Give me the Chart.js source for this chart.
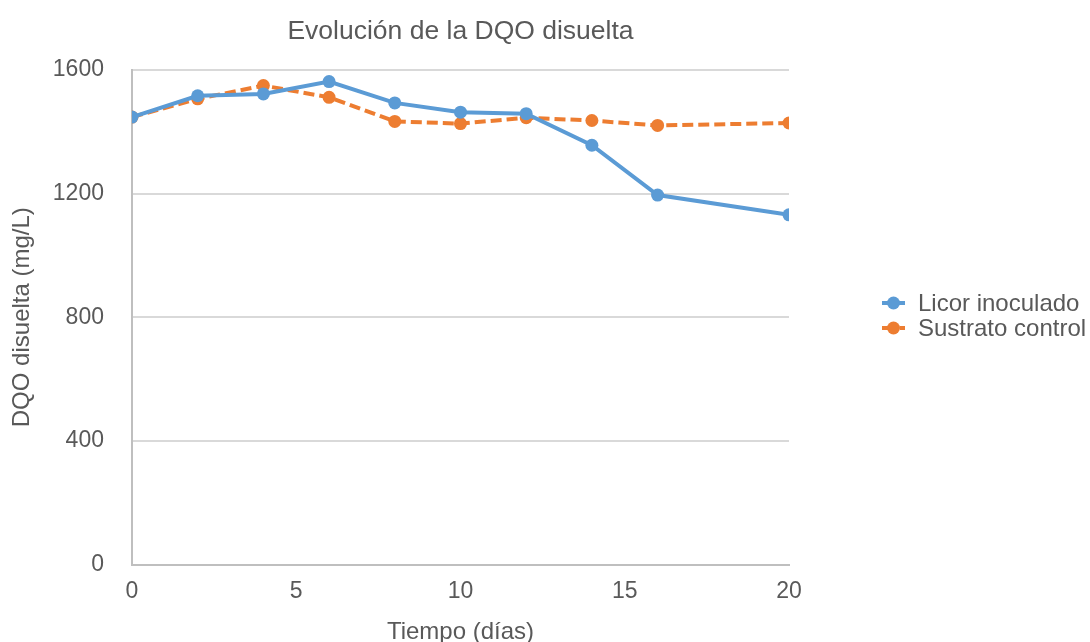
<!DOCTYPE html>
<html>
<head>
<meta charset="utf-8">
<script src="https://cdn.jsdelivr.net/npm/chart.js@4"></script>
<style>
html,body{margin:0;padding:0;background:#fff;}
#wrap{width:1090px;height:642px;}
</style>
</head>
<body>
<div id="wrap"><canvas id="c" width="1090" height="642"></canvas></div>
<script>
const days = [0, 2, 4, 6, 8, 10, 12, 14, 16, 20];
const licorInoculado = [1447, 1516, 1522, 1562, 1493, 1463, 1458, 1356, 1195, 1131];
const sustratoControl = [1447, 1506, 1549, 1511, 1433, 1426, 1445, 1436, 1420, 1428];
const yTicks = [0, 400, 800, 1200, 1600];
const xTicks = [0, 5, 10, 15, 20];
const seriesNames = ['Licor inoculado', 'Sustrato control'];

const BLUE = '#5b9bd5', ORANGE = '#ed7d31', TXT = '#595959', GRID = '#d9d9d9', AXIS = '#bfbfbf';
const FONT = "'Liberation Sans', Arial, sans-serif";

const toXY = (arr) => days.map((d, i) => ({x: d, y: arr[i]}));

// Center the chart title over the plot area (as in the original)
const titleOverPlot = {
  id: 'titleOverPlot',
  afterLayout(chart) {
    const t = chart.titleBlock;
    if (t) {
      t.left = chart.chartArea.left;
      t.right = chart.chartArea.right;
      t.width = t.right - t.left;
    }
  }
};

// Legend drawn to the right of the plot (line + marker, like the original)
const sideLegend = {
  id: 'sideLegend',
  afterDraw(chart) {
    const ctx = chart.ctx;
    const x0 = 882, textX = 918, y0 = 303, step = 25;
    chart.data.datasets.forEach((ds, i) => {
      const y = y0 + i * step;
      ctx.save();
      ctx.strokeStyle = ds.borderColor;
      ctx.lineWidth = 4;
      ctx.setLineDash(ds.borderDash ? [6, 3] : []);
      ctx.beginPath(); ctx.moveTo(x0, y); ctx.lineTo(x0 + 23, y); ctx.stroke();
      ctx.setLineDash([]);
      ctx.fillStyle = ds.borderColor;
      ctx.beginPath(); ctx.arc(x0 + 11.5, y, 6.5, 0, Math.PI * 2); ctx.fill();
      ctx.fillStyle = TXT;
      ctx.font = "24px " + FONT;
      ctx.textBaseline = 'middle';
      ctx.textAlign = 'left';
      ctx.fillText(ds.label, textX, y + 1);
      ctx.restore();
    });
  }
};

new Chart(document.getElementById('c'), {
  type: 'line',
  data: {
    datasets: [
      {label: seriesNames[0], data: toXY(licorInoculado), borderColor: BLUE, backgroundColor: BLUE,
       borderWidth: 4, pointRadius: 6.5, pointHoverRadius: 6.5, pointBorderWidth: 0, tension: 0},
      {label: seriesNames[1], data: toXY(sustratoControl), borderColor: ORANGE, backgroundColor: ORANGE,
       borderWidth: 4, borderDash: [11, 5], pointRadius: 6.5, pointHoverRadius: 6.5, pointBorderWidth: 0, tension: 0}
    ]
  },
  options: {
    responsive: false,
    animation: false,
    layout: {padding: {left: 8, right: 301, top: 8, bottom: 0}},
    plugins: {
      title: {display: true, text: 'Evolución de la DQO disuelta', color: TXT,
              font: {family: FONT, size: 26.5, weight: 'normal'}, padding: {top: 8, bottom: 22}},
      legend: {display: false},
      tooltip: {enabled: false}
    },
    scales: {
      x: {
        type: 'linear', min: 0, max: 20,
        afterBuildTicks: (s) => { s.ticks = xTicks.map(v => ({value: v})); },
        grid: {display: false, drawTicks: false},
        border: {display: true, color: AXIS, width: 2},
        ticks: {color: TXT, font: {family: FONT, size: 23}, padding: 13, callback: (v) => String(v)},
        title: {display: true, text: 'Tiempo (días)', color: TXT, font: {family: FONT, size: 24}, padding: {top: 0, bottom: -5}}
      },
      y: {
        min: 0, max: 1600,
        afterBuildTicks: (s) => { s.ticks = yTicks.map(v => ({value: v})); },
        grid: {color: GRID, lineWidth: 2, drawTicks: false},
        border: {display: true, color: AXIS, width: 2},
        ticks: {color: TXT, font: {family: FONT, size: 23}, padding: 28, callback: (v) => String(v)},
        title: {display: true, text: 'DQO disuelta (mg/L)', color: TXT, font: {family: FONT, size: 24}, padding: {top: 0, bottom: -12}}
      }
    }
  },
  plugins: [titleOverPlot, sideLegend]
});
</script>
</body>
</html>
